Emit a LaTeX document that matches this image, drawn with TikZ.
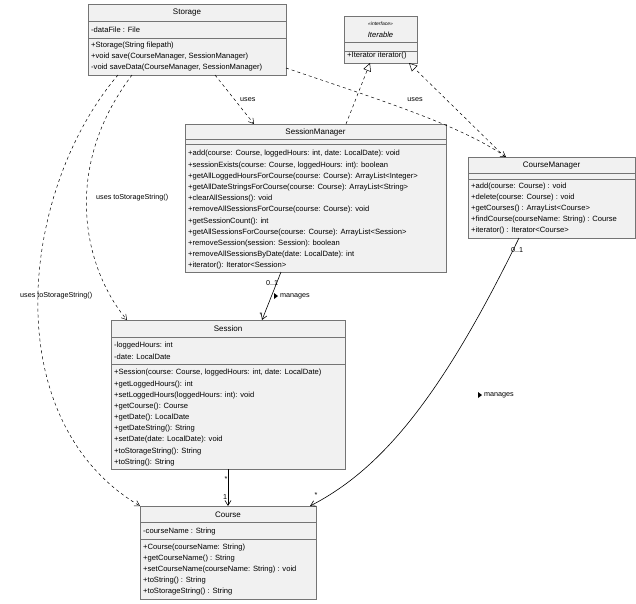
\documentclass[tikz,border=0pt]{standalone}
\usepackage{fontspec}
\setmainfont{Liberation Sans}
\usetikzlibrary{arrows.meta}
\definecolor{boxfill}{HTML}{F1F1F1}
\definecolor{boxline}{HTML}{181818}
\begin{document}
\begin{tikzpicture}[x=1pt,y=-1pt,
  box/.style={draw=boxline!60,fill=boxfill,line width=0.6pt,rectangle,anchor=north west,inner sep=0},
  sep/.style={draw=boxline!60,line width=0.5pt},
  row/.style={anchor=west,inner sep=0,font=\fontsize{7.6}{9}\selectfont},
  ttl/.style={anchor=center,inner sep=0,font=\fontsize{8}{9}\selectfont},
  lbl/.style={inner sep=0,font=\fontsize{7.2}{9}\selectfont},
  dep/.style={dashed,dash pattern=on 3pt off 3pt,line width=0.5pt,-{Straight Barb[length=5pt,width=6pt]}},
  real/.style={dashed,dash pattern=on 3pt off 3pt,line width=0.5pt,-{Triangle[open,length=8pt,width=8pt]}},
  assoc/.style={line width=0.6pt,-{Straight Barb[length=5pt,width=6pt]}}]
\useasboundingbox[fill=white] (0,0) rectangle (636,603);
% Storage
\node[box,minimum width=198pt,minimum height=71pt] (storage) at (88,4) {};
\draw[sep] (88,21)--(286,21) (88,38)--(286,38);
\node[ttl] (storageT) at (187,13) {Storage};
\node[row] (s1) at (91,30) {-dataFile : File};
\node[row] (s2) at (91,46) {+Storage(String filepath)};
\node[row] (s3) at (91,57) {+void save(CourseManager, SessionManager)};
\node[row] (s4) at (91,68) {-void saveData(CourseManager, SessionManager)};
% Iterable
\node[box,minimum width=73pt,minimum height=47pt] (iter) at (344,16) {};
\draw[sep] (344,42)--(417,42) (344,51)--(417,51);
\node[ttl,font=\fontsize{5}{6}\selectfont\itshape] (iterS) at (380.5,24) {«interface»};
\node[ttl,font=\fontsize{7.6}{9}\selectfont\itshape] (iterT) at (380.5,35) {Iterable};
\node[row] (i1) at (347,56) {+Iterator iterator()};
% SessionManager
\node[box,minimum width=261pt,minimum height=148pt] (sm) at (185,124) {};
\draw[sep] (185,139)--(446,139) (185,144)--(446,144);
\node[ttl] (smT) at (315.5,132) {SessionManager};
\foreach \t [count=\i from 0] in {
 {+add(course: Course, loggedHours: int, date: LocalDate): void},
 {+sessionExists(course: Course, loggedHours: int): boolean},
 {+getAllLoggedHoursForCourse(course: Course): ArrayList<Integer>},
 {+getAllDateStringsForCourse(course: Course): ArrayList<String>},
 {+clearAllSessions(): void},
 {+removeAllSessionsForCourse(course: Course): void},
 {+getSessionCount(): int},
 {+getAllSessionsForCourse(course: Course): ArrayList<Session>},
 {+removeSession(session: Session): boolean},
 {+removeAllSessionsByDate(date: LocalDate): int},
 {+iterator(): Iterator<Session>}}
 \node[row] (sm\i) at (188,154+11.2*\i) {\t};
% CourseManager
\node[box,minimum width=167pt,minimum height=81pt] (cm) at (468,157) {};
\draw[sep] (468,173)--(635,173) (468,179)--(635,179);
\node[ttl] (cmT) at (551.5,166) {CourseManager};
\foreach \t [count=\i from 0] in {
 {+add(course: Course) : void},
 {+delete(course: Course) : void},
 {+getCourses() : ArrayList<Course>},
 {+findCourse(courseName: String) : Course},
 {+iterator() : Iterator<Course>}}
 \node[row] (cm\i) at (471,187+11*\i) {\t};
% Session
\node[box,minimum width=234pt,minimum height=149pt] (session) at (111,320) {};
\draw[sep] (111,337)--(345,337) (111,364)--(345,364);
\node[ttl] (seT) at (228,329) {Session};
\node[row] (sa1) at (114,346) {-loggedHours: int};
\node[row] (sa2) at (114,357) {-date: LocalDate};
\foreach \t [count=\i from 0] in {
 {+Session(course: Course, loggedHours: int, date: LocalDate)},
 {+getLoggedHours(): int},
 {+setLoggedHours(loggedHours: int): void},
 {+getCourse(): Course},
 {+getDate(): LocalDate},
 {+getDateString(): String},
 {+setDate(date: LocalDate): void},
 {+toStorageString(): String},
 {+toString(): String}}
 \node[row] (se\i) at (114,373+11.15*\i) {\t};
% Course
\node[box,minimum width=176pt,minimum height=93pt] (course) at (140,506) {};
\draw[sep] (140,522)--(316,522) (140,539)--(316,539);
\node[ttl] (coT) at (228,515) {Course};
\node[row] (ca1) at (143,532) {-courseName : String};
\foreach \t [count=\i from 0] in {
 {+Course(courseName: String)},
 {+getCourseName() : String},
 {+setCourseName(courseName: String) : void},
 {+toString() : String},
 {+toStorageString() : String}}
 \node[row] (co\i) at (143,548+11*\i) {\t};
% connector endpoints
\coordinate (a1) at (215,75); \coordinate (b1) at (254,124);
\coordinate (a2) at (286,68); \coordinate (b2) at (506,157);
\coordinate (a3) at (346,124); \coordinate (b3) at (370,63);
\coordinate (a4) at (505,157); \coordinate (b4) at (409,63);
\coordinate (a5) at (132,75); \coordinate (b5) at (127,320);
\coordinate (a6) at (118,75); \coordinate (b6) at (140,506);
\coordinate (a7) at (281,272); \coordinate (b7) at (262,320);
\coordinate (a8) at (228,469); \coordinate (b8) at (228,506);
\coordinate (a9) at (519,238); \coordinate (b9) at (310,506);
% connectors
\draw[dep] (a1) -- (b1);
\node[lbl,anchor=west] (u1) at (240,100) {uses};
\draw[dep] (a2) .. controls (380,100) and (460,125) .. (b2);
\node[lbl] (u2) at (415,100) {uses};
\draw[real] (a3) -- (b3);
\draw[real] (a4) -- (b4);
\draw[dep] (a5) .. controls (60,170) and (85,270) .. (b5);
\node[lbl,anchor=west] (u5) at (96,198) {uses toStorageString()};
\draw[dep] (a6) .. controls (20,190) and (-5,420) .. (b6);
\node[lbl,anchor=west] (u6) at (20,296) {uses toStorageString()};
\draw[assoc] (a7) -- (b7);
\node[lbl] (m7a) at (272,283) {0..1};
\node[lbl] (m7b) at (261,315) {*};
\node[lbl,anchor=west] (m7) at (280,296) {manages};
\fill (274,293) -- (278,296) -- (274,299) -- cycle;
\draw[assoc] (a8) -- (b8);
\node[lbl] (m8a) at (226,479) {*};
\node[lbl] (m8b) at (225,497) {1};
\draw[assoc] (a9) .. controls (440,400) and (380,470) .. (b9);
\node[lbl] (m9a) at (517,250) {0..1};
\node[lbl] (m9b) at (316,495) {*};
\node[lbl,anchor=west] (m9) at (484,395) {manages};
\fill (478,392) -- (482,395) -- (478,398) -- cycle;
\end{tikzpicture}
\end{document}
